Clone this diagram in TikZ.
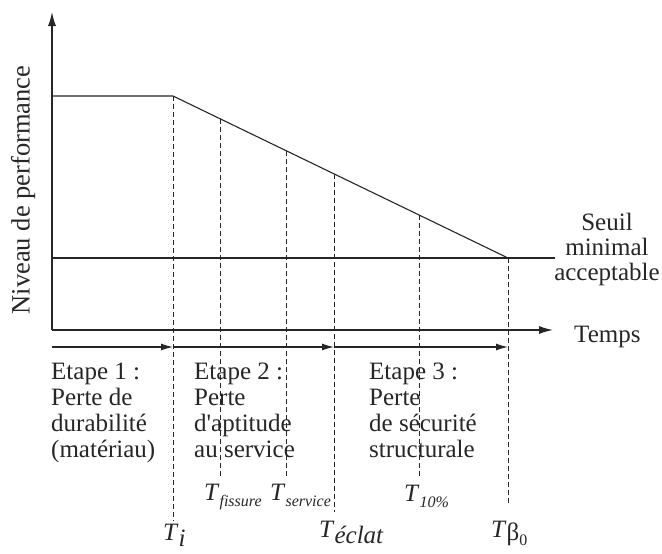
\documentclass[tikz,border=0pt]{standalone}
\usepackage{fontspec}
\setmainfont{Liberation Serif}
\usetikzlibrary{arrows.meta}
\begin{document}
\begin{tikzpicture}[x=1pt,y=-1pt,
  txt/.style={inner sep=0pt,font=\fontsize{25}{26.2}\selectfont,text=black!85},
  lbl/.style={inner sep=0pt,font=\fontsize{25}{25}\selectfont,text=black!85},
  axis/.style={line width=1.2pt,draw=black!85,-{Latex[length=14pt,width=8pt]}},
  solid line/.style={line width=1.1pt,draw=black!85},
  dash line/.style={line width=0.9pt,draw=black!85,dash pattern=on 5pt off 3pt},
  stagearrow/.style={line width=1.1pt,draw=black!85,-{Latex[length=12pt,width=7pt]}}]
\useasboundingbox (0,0) rectangle (662,554);
% coordinates
\coordinate (O) at (52,330);
\coordinate (Ytop) at (52,12);
\coordinate (Xend) at (553,330);
\coordinate (H0) at (52,96);
\coordinate (Ti) at (173,96);
\coordinate (Tb) at (508,258);
\coordinate (S0) at (52,258);
\coordinate (S1) at (555,258);
\coordinate (Pf) at (220,118.7);
\coordinate (Ps) at (286,150.6);
\coordinate (Pe) at (334,173.9);
\coordinate (P10) at (419,215);
\coordinate (Ti-b) at (173,521);
\coordinate (Pf-b) at (220,478);
\coordinate (Ps-b) at (286,478);
\coordinate (Pe-b) at (334,512);
\coordinate (P10-b) at (419,476);
\coordinate (Tb-b) at (508,505);
\coordinate (A0) at (52,347);
\coordinate (A1) at (173,347);
\coordinate (A2) at (334,347);
\coordinate (A3) at (508,347);
% axes
\draw[axis] (O) -- (Ytop);
\draw[axis] (O) -- (Xend);
% performance curve and threshold
\draw[solid line] (H0) -- (Ti) -- (Tb);
\draw[solid line] (S0) -- (S1);
% dashed verticals
\draw[dash line] (Ti) -- (Ti-b);
\draw[dash line] (Pf) -- (Pf-b);
\draw[dash line] (Ps) -- (Ps-b);
\draw[dash line] (Pe) -- (Pe-b);
\draw[dash line] (P10) -- (P10-b);
\draw[dash line] (Tb) -- (Tb-b);
% stage arrows
\draw[stagearrow] (A0) -- (A1);
\draw[stagearrow] (A1) -- (A2);
\draw[stagearrow] (A2) -- (A3);
% axis labels
\node[txt,rotate=90,font=\fontsize{26.5}{26.5}\selectfont] (ylab) at (23,190) {Niveau de performance};
\node[txt,anchor=base west] (temps) at (574,342) {Temps};
\node[txt,anchor=base,align=center,font=\fontsize{25}{25}\selectfont] (seuil) at (607,280) {Seuil\\minimal\\acceptable};
% stage texts
\node[txt,anchor=base west,align=left] (st1) at (51,457.6) {Etape 1 :\\Perte de\\durabilité\\(matériau)};
\node[txt,anchor=base west,align=left] (st2) at (194,457.6) {Etape 2 :\\Perte\\d\textquotesingle aptitude\\au service};
\node[txt,anchor=base west,align=left] (st3) at (369,457.6) {Etape 3 :\\Perte\\de sécurité\\structurale};
% time labels
\newcommand{\tsub}[1]{\raisebox{-6pt}{\fontsize{16}{16}\selectfont\itshape #1}}
\node[lbl,anchor=base west] (lfis) at (204,500) {\textit{T}\tsub{fissure}};
\node[lbl,anchor=base west] (lser) at (270,500) {\textit{T}\tsub{service}};
\node[lbl,anchor=base west] (l10) at (404,501) {\textit{T}\tsub{10\%}};
\node[lbl,anchor=base west] (lTi) at (163,540) {\textit{T}\raisebox{-6pt}{\itshape i}};
\node[lbl,anchor=base west] (lecl) at (319,537) {\textit{T}\raisebox{-6pt}{\itshape éclat}};
\node[lbl,anchor=base west] (lbeta) at (491,537) {\textit{T}\raisebox{-3pt}{β}\raisebox{-8pt}{\fontsize{16}{16}\selectfont 0}};
\end{tikzpicture}
\end{document}
